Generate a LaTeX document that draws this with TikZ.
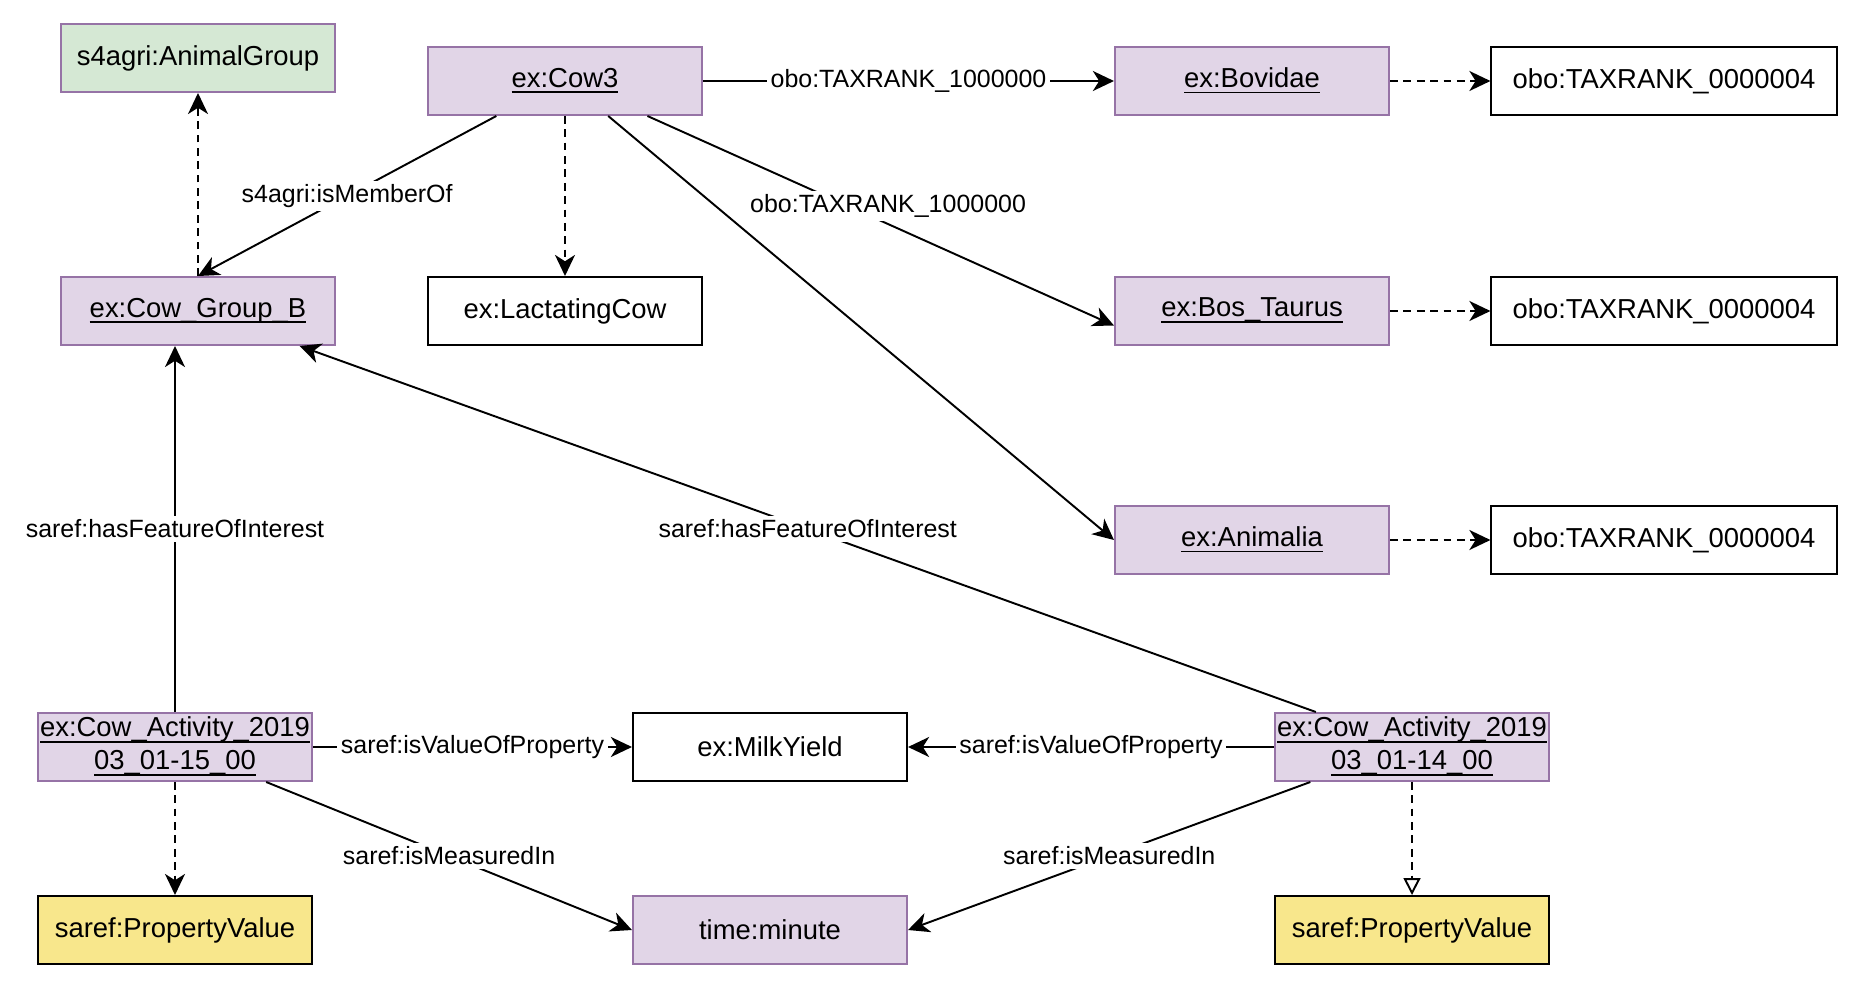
\documentclass[tikz,border=0pt]{standalone}
\usepackage{fontspec}
\setmainfont{Liberation Sans}
\usepackage{xcolor}
\usetikzlibrary{arrows.meta}

\definecolor{objfill}{HTML}{E1D5E7}
\definecolor{objline}{HTML}{9673A6}
\definecolor{grpfill}{HTML}{D5E8D4}
\definecolor{valfill}{RGB}{248,231,140}
\newcommand{\undl}[1]{\underline{\raisebox{0pt}[\height][0pt]{#1}}}

\begin{document}
\begin{tikzpicture}[x=0.01cm, y=-0.01cm, line width=0.55pt,
  every node/.style={draw, inner sep=0pt, minimum width=2.74cm, minimum height=0.68cm, font=\fontsize{7.8}{9.4}\selectfont},
  obj/.style={fill=objfill, draw=objline},
  grp/.style={fill=grpfill, draw=objline},
  val/.style={fill=valfill},
  wide/.style={minimum width=3.45cm},
  lbl/.style={draw=none, fill=white, inner sep=1pt, minimum width=0pt, minimum height=0pt, font=\fontsize{7.1}{8.5}\selectfont},
  rel/.style={-{Stealth[length=6pt, width=5.7pt, inset=1.8pt]}},
  typ/.style={rel, dash pattern=on 2.2pt off 1.6pt},
  sub/.style={-{Triangle[open, length=4.8pt, width=4.8pt]}, dash pattern=on 2.2pt off 1.6pt}]
  \useasboundingbox (0,0) rectangle (1863,988);

  % top rows
  \node[grp] (group) at (198,58) {s4agri:AnimalGroup};
  \node[obj] (cow) at (565,81) {\undl{ex:Cow3}};
  \node[obj] (bovidae) at (1252,81) {\undl{ex:Bovidae}};
  \node[wide] (rank1) at (1664,81) {obo:TAXRANK\_0000004};
  \node[obj] (cowgroup) at (198,311) {\undl{ex:Cow\_Group\_B}};
  \node (lactating) at (565,311) {ex:LactatingCow};
  \node[obj] (taurus) at (1252,311) {\undl{ex:Bos\_Taurus}};
  \node[wide] (rank2) at (1664,311) {obo:TAXRANK\_0000004};
  \node[obj] (animalia) at (1252,540) {\undl{ex:Animalia}};
  \node[wide] (rank3) at (1664,540) {obo:TAXRANK\_0000004};

  % observations
  \node[obj, align=center] (act1) at (175,747) {\undl{ex:Cow\_Activity\_2019}\\\undl{03\_01-15\_00}};
  \node (milk) at (770,747) {ex:MilkYield};
  \node[obj, align=center] (act2) at (1412,747) {\undl{ex:Cow\_Activity\_2019}\\\undl{03\_01-14\_00}};
  \node[val] (value1) at (175,930) {saref:PropertyValue};
  \node[obj] (minute) at (770,930) {time:minute};
  \node[val] (value2) at (1412,930) {saref:PropertyValue};

  \draw[rel] (cow) -- node[lbl]{obo:TAXRANK\_1000000} (bovidae);
  \draw[rel] (cow.-23.8) -- node[lbl, pos=0.43, xshift=4mm]{obo:TAXRANK\_1000000} (taurus.186.7);
  \draw[rel] (cow.-39.7) -- (animalia.west);
  \draw[rel] (cow.207) -- node[lbl]{s4agri:isMemberOf} (cowgroup.north);
  \draw[typ] (cow) -- (lactating);
  \draw[typ] (cowgroup) -- (group);
  \draw[typ] (bovidae) -- (rank1);
  \draw[typ] (taurus) -- (rank2);
  \draw[typ] (animalia) -- (rank3);

  \draw[rel] (act1) -- node[lbl]{saref:hasFeatureOfInterest} (act1 |- cowgroup.south);
  \draw[rel] (act2.160.7) -- node[lbl]{saref:hasFeatureOfInterest} (cowgroup.-19);
  \draw[rel] (act1) -- node[lbl]{saref:isValueOfProperty} (milk);
  \draw[rel] (act2) -- node[lbl]{saref:isValueOfProperty} (milk);
  \draw[rel] (act1.-21.6) -- node[lbl]{saref:isMeasuredIn} (minute.west);
  \draw[rel] (act2.199.3) -- node[lbl]{saref:isMeasuredIn} (minute.east);
  \draw[typ] (act1) -- (value1);
  \draw[sub] (act2) -- (value2);
\end{tikzpicture}
\end{document}
